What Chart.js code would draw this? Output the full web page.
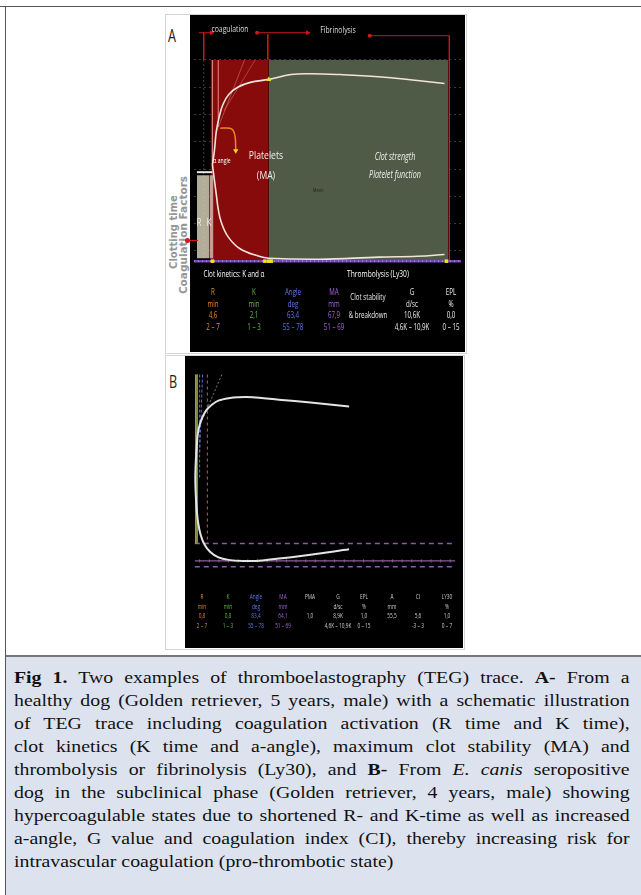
<!DOCTYPE html>
<html><head><meta charset="utf-8">
<script src="https://cdn.jsdelivr.net/npm/chart.js@4.4.1/dist/chart.umd.min.js"></script>
<style>
html,body{margin:0;padding:0;background:#fff;}
body{width:641px;height:895px;overflow:hidden;position:relative;}
.abs{position:absolute;}
.t{position:absolute;white-space:nowrap;font-family:"Open Sans","DejaVu Sans",sans-serif;line-height:1;}
.cl{position:absolute;left:14px;width:540px;font-family:"Liberation Serif","DejaVu Serif",serif;font-size:17.4px;line-height:23px;height:23px;text-align:justify;text-align-last:justify;color:#111;transform-origin:0 0;transform:scaleX(1.14);}
canvas{position:absolute;background:#000;}
</style>
</head><body>
<div class="abs" style="left:0;top:6px;width:641px;height:1px;background:#555"></div>
<div class="abs" style="left:5px;top:6px;width:1px;height:889px;background:#555"></div>
<div class="abs" style="left:165px;top:14px;width:300px;height:338px;border:1px solid #d4d4d4;background:#fff"></div>
<div class="abs" style="left:165px;top:355px;width:298px;height:293px;border:1px solid #d4d4d4;background:#fff"></div>
<canvas id="cA" width="275" height="337" style="left:190px;top:15px;width:275px;height:337px"></canvas>
<canvas id="cB" width="278" height="292" style="left:185px;top:356px;width:278px;height:292px"></canvas>
<div class="abs" style="left:6px;top:655px;width:635px;height:2px;background:#777"></div>
<div class="abs" style="left:6px;top:657px;width:635px;height:238px;background:#dde3ee"></div>
<div id="cap"></div>
<div id="lbl"></div>
<script>
// ---------- DATA (panel A: healthy dog, schematic) ----------
const redZoneX = [3.4, 15.4];
const greenZoneX = [15.4, 52.4];
const zoneTopA = 38.8, zoneBottomA = -35.4;
const rBarX = [0.6, 3.2];
const kBarX = [3.2, 4.0];
const barTopA = -3.9, barBottomA = -34.7;
const upperAx = [3.8, 4.2, 4.6, 5.2, 6.0, 7.2, 9.0, 11.6, 15.4, 20, 24, 30, 38, 46, 51.6];
const upperAy = [0, 5.1, 12.4, 17.8, 22.5, 26.1, 28.7, 30.5, 31.6, 33.4, 33.7, 33.4, 32.6, 31.2, 30.1];
const lowerAx = [3.8, 4.2, 4.6, 5.0, 5.6, 7.0, 9.4, 13.4, 15.4, 26, 38, 46, 51.6];
const lowerAy = [0, -5.7, -11.2, -16.6, -21.3, -26.7, -31.1, -34.0, -34.7, -35.1, -34.3, -34.0, -33.3];
const alphaBracketX = [5.4, 7.4, 8.1, 8.5, 8.6];
const alphaBracketY = [13.5, 13.5, 12.6, 10.0, 5.6];
const baselineA = -35.8;
const markerAx = [3.8, 14.6, 15.4, 15.9, 52.0];
const headerAy = 48.9;
const gridAy = [38.8, 28.7, 18.5, 8.4, -1.8, -11.9, -22.0, -31.9];

// ---------- DATA (panel B: E. canis seropositive dog) ----------
const traceBx = [33.0, 25.0, 18.4, 13.0, 10.0, 8.0, 6.0, 4.6, 3.4, 2.6, 2.0, 1.6, 1.4, 1.2, 1.1,
                 1.2, 1.4, 1.7, 2.2, 3.0, 4.2, 5.8, 8.0, 11.0, 15.0, 23.0, 33.0];
const traceBy = [28.8, 30.4, 31.5, 32.5, 32.5, 32.1, 31.2, 29.6, 27.3, 24.6, 21.5, 17.7, 12.7, 6.9, 0,
                 -6.5, -12.3, -17.7, -22.3, -26.2, -29.2, -31.2, -32.3, -32.7, -32.5, -30.8, -28.1];
const markerTopB = 41.5, markerBottomB = -25.8;
const dashLinesBy = [-25.8, -35.0];
const solidLineBy = -32.7;
const tickBx = [2, 4, 6, 8, 10, 12, 14, 16, 18, 20, 22, 24, 26, 28, 30, 32, 34, 36, 38, 40, 42, 44, 46, 48, 50, 52, 54];

// ---------- TABLES ----------
const tableALabels = ['R', 'K', 'Angle', 'MA', 'G', 'EPL'];
const tableAUnits = ['min', 'min', 'deg', 'mm', 'd/sc', '%'];
const tableAValues = ['4,6', '2,1', '63,4', '67,9', '10,6K', '0,0'];
const tableARanges = ['2 – 7', '1 – 3', '55 – 78', '51 – 69', '4,6K – 10,9K', '0 – 15'];
const tableBLabels = ['R', 'K', 'Angle', 'MA', 'PMA', 'G', 'EPL', 'A', 'CI', 'LY30'];
const tableBUnits = ['min', 'min', 'deg', 'mm', '', 'd/sc', '%', 'mm', '', '%'];
const tableBValues = ['0,8', '0,8', '83,4', '64,1', '1,0', '8,9K', '1,0', '55,5', '5,6', '1,0'];
const tableBRanges = ['2 – 7', '1 – 3', '55 – 78', '51 – 69', '', '4,6K – 10,9K', '0 – 15', '', '-3 – 3', '0 – 7'];

// ---------- helpers ----------
const pts = (xs, ys) => xs.map((x, i) => ({x, y: ys[i]}));
function ln(data, color, width, extra) {
  return Object.assign({type: 'line', data, borderColor: color, borderWidth: width, pointRadius: 0, fill: false, tension: 0, order: 5}, extra || {});
}
function box(xr, top, bottom, color, order) {
  return {type: 'line', data: [{x: xr[0], y: top}, {x: xr[1], y: top}], borderWidth: 0, borderColor: 'transparent',
    backgroundColor: color, pointRadius: 0, fill: {value: bottom}, order: order};
}
function baseOpts(xmin, xmax, ymin, ymax, gridVals) {
  return {
    responsive: false, devicePixelRatio: 1, animation: false, events: [],
    layout: {padding: 0},
    plugins: {legend: {display: false}, tooltip: {enabled: false}},
    scales: {
      x: {type: 'linear', min: xmin, max: xmax, display: false},
      y: {type: 'linear', min: ymin, max: ymax, display: !!gridVals, position: 'left',
        ticks: {display: false, includeBounds: false},
        grid: {color: 'rgba(210,210,210,0.28)', drawTicks: false, lineWidth: 1},
        border: {display: false, dash: [2, 3]},
        afterBuildTicks: s => { if (gridVals) s.ticks = gridVals.map(v => ({value: v})); },
        afterFit: s => { s.width = 0; }}
    }
  };
}

// ---------- Chart A ----------
const red = '#d01818';
const dsA = [
  box(redZoneX, zoneTopA, zoneBottomA, '#870b0b', 20),
  box(greenZoneX, zoneTopA, zoneBottomA, '#4f5b46', 20),
  box(rBarX, barTopA, barBottomA, '#b3ad97', 19),
  box(kBarX, barTopA, barBottomA, '#c89d95', 19),
  ln([{x: 0.6, y: -2.8}, {x: 3.8, y: -2.8}], '#e8e8e8', 2),
  ln([{x: 2.0, y: zoneTopA}, {x: 2.0, y: zoneBottomA}], 'rgba(200,200,200,0.35)', 1, {borderDash: [2, 2]}),
  ln([{x: 3.8, y: zoneTopA}, {x: 3.8, y: 0}], 'rgba(255,190,190,0.35)', 1),
  ln([{x: 5.0, y: zoneTopA}, {x: 5.0, y: 14}], 'rgba(255,190,190,0.3)', 1),
  ln([{x: 4.6, y: 12}, {x: 10.4, y: zoneTopA}], 'rgba(255,190,190,0.35)', 1),
  ln([{x: 6.2, y: 20}, {x: 12.6, y: zoneTopA}], 'rgba(255,190,190,0.3)', 1),
  // header arrows
  ln([{x: 1.0, y: headerAy}, {x: 3.6, y: headerAy}], red, 1, {pointRadius: [0, 3], pointStyle: 'triangle', pointRotation: 90, pointBackgroundColor: red, pointBorderWidth: 0}),
  ln([{x: 13.0, y: headerAy}, {x: 23.4, y: headerAy}], red, 1, {pointRadius: [2, 3], pointStyle: ['circle', 'triangle'], pointRotation: [0, 90], pointBackgroundColor: red, pointBorderWidth: 0}),
  ln([{x: 36.2, y: 47.8}, {x: 52.6, y: 47.8}, {x: 52.6, y: zoneBottomA}], red, 1, {pointRadius: [2, 0, 0], pointBackgroundColor: red, pointBorderWidth: 0}),
  ln([{x: 2.0, y: headerAy}, {x: 2.0, y: zoneTopA}], red, 1),
  ln([{x: 15.2, y: 48.3}, {x: 15.2, y: zoneTopA}], red, 1),
  // baseline
  ln([{x: 0, y: baselineA}, {x: 55, y: baselineA}], '#7446b8', 2.5, {order: 4}),
  ln([{x: 0, y: baselineA}, {x: 55, y: baselineA}], 'rgba(230,230,230,0.7)', 1, {borderDash: [1, 3], order: 3}),
  // trace
  ln(pts(upperAx, upperAy), '#f0e4dc', 1.6, {tension: 0.4, order: 2}),
  ln(pts(lowerAx, lowerAy), '#f0e4dc', 1.6, {tension: 0.4, order: 2}),
  ln(pts(alphaBracketX, alphaBracketY), '#e88a1c', 1.5, {tension: 0.3, order: 2}),
  // markers
  ln(markerAx.map(x => ({x, y: baselineA})), 'transparent', 0, {showLine: false, pointRadius: 2.5, pointStyle: 'rect', pointBackgroundColor: '#f2e21a', pointBorderWidth: 0, order: 1}),
  ln([{x: 15.4, y: 31.6}, {x: 8.6, y: 5.1}], 'transparent', 0, {showLine: false, pointRadius: 3, pointStyle: 'triangle', pointRotation: [0, 180], pointBackgroundColor: '#f2e21a', pointBorderWidth: 0, order: 1})
];
new Chart(document.getElementById('cA'), {type: 'line', data: {datasets: dsA}, options: baseOpts(0, 55, -68, 54, gridAy)});

// ---------- Chart B ----------
const purple = '#8e5ca6';
const dsB = [
  ln([{x: 1.2, y: markerTopB}, {x: 1.2, y: markerBottomB}], '#a7a23c', 1),
  ln([{x: 1.5, y: markerTopB}, {x: 1.5, y: markerBottomB}], '#4da85a', 1),
  ln([{x: 2.0, y: markerTopB}, {x: 2.0, y: 0}], '#5470d0', 1, {borderDash: [3, 2]}),
  ln([{x: 2.6, y: markerTopB}, {x: 2.0, y: 10}], '#5470d0', 1, {borderDash: [3, 2]}),
  ln([{x: 3.6, y: markerTopB}, {x: 3.6, y: markerBottomB}], '#b0606a', 1, {borderDash: [3, 3]}),
  ln([{x: 6.6, y: markerTopB}, {x: 1.6, y: 19.2}], 'rgba(170,170,200,0.7)', 1, {borderDash: [2, 2]}),
  ln([{x: 1.0, y: dashLinesBy[0]}, {x: 55, y: dashLinesBy[0]}], purple, 1.5, {borderDash: [5, 4]}),
  ln([{x: 1.0, y: dashLinesBy[1]}, {x: 55, y: dashLinesBy[1]}], purple, 1.5, {borderDash: [5, 4]}),
  ln([{x: 1.0, y: solidLineBy}, {x: 55, y: solidLineBy}], purple, 1.2),
  ln(tickBx.map(x => ({x, y: solidLineBy})), 'transparent', 0, {showLine: false, pointStyle: 'line', pointRotation: 90, pointRadius: 1.5, pointBorderColor: 'rgba(160,120,180,0.8)', pointBorderWidth: 1}),
  ln(pts(traceBx, traceBy), '#e4e4e4', 2, {tension: 0.3, order: 1})
];
new Chart(document.getElementById('cB'), {type: 'line', data: {datasets: dsB}, options: baseOpts(0, 55.6, -65.4, 46.9, null)});

// ---------- labels ----------
const L = document.getElementById('lbl');
function txt(s, x, y, size, color, sx, extra) {
  const d = document.createElement('div');
  d.className = 't';
  d.textContent = s;
  d.style.left = x + 'px'; d.style.top = y + 'px';
  d.style.fontSize = size + 'px'; d.style.color = color;
  d.style.transform = 'translate(-50%,-50%) scaleX(' + (sx || 0.72) + ')';
  if (extra) Object.assign(d.style, extra);
  L.appendChild(d);
  return d;
}
txt('A', 172, 35, 18, '#222', 0.7);
txt('B', 173, 381, 18, '#222', 0.7);
txt('coagulation', 230, 29, 9.5, '#ddd', 0.72);
txt('Fibrinolysis', 338, 30, 9.5, '#ddd', 0.72);
txt('α angle', 222, 161, 7.5, '#fff', 0.68);
txt('Platelets', 266, 155, 11.5, '#eee', 0.75);
txt('(MA)', 266, 175, 11.5, '#eee', 0.75);
txt('Clot strength', 395, 156, 10, '#eee', 0.72, {fontStyle: 'italic'});
txt('Platelet function', 395, 174, 10, '#eee', 0.72, {fontStyle: 'italic'});
txt('Metin', 318, 190, 5, '#222', 0.8);
txt('R', 199, 222, 10, '#eee', 0.8);
txt('K', 209, 222, 10, '#eee', 0.8);
txt('Clot kinetics: K and α', 234, 273, 9, '#fff', 0.7);
txt('Thrombolysis (Ly30)', 378, 274, 9.5, '#fff', 0.7);
const rot = {transform: 'translate(-50%,-50%) rotate(-90deg)', fontFamily: '"DejaVu Sans",sans-serif', fontWeight: 'bold'};
txt('Clotting time', 174, 232, 10, '#959595', 1, rot);
txt('Coagulation Factors', 183, 235, 10.5, '#959595', 1, rot);
const dot = document.createElement('div');
Object.assign(dot.style, {position: 'absolute', left: '185px', top: '238px', width: '5px', height: '5px', borderRadius: '50%', background: '#d01818'});
L.appendChild(dot);
const redTick = document.createElement('div');
Object.assign(redTick.style, {position: 'absolute', left: '190px', top: '240px', width: '8px', height: '1px', background: '#d01818'});
L.appendChild(redTick);

// table A
const colA = [213, 254, 293, 334, 412, 451];
const colorsA = ['#e58a2a', '#63bd45', '#5f7ae8', '#a862d8', '#eee', '#eee'];
const rowsA = [292, 304, 315, 327];
[tableALabels, tableAUnits, tableAValues, tableARanges].forEach((row, r) => {
  row.forEach((s, i) => { if (s) txt(s, colA[i], rowsA[r], 9.5, colorsA[i], 0.65); });
});
txt('Clot stability', 368, 297, 9.5, '#eee', 0.65);
txt('& breakdown', 368, 315, 9.5, '#eee', 0.65);

// table B
const colB = [202, 228, 256, 283, 310, 338, 364, 392, 418, 447];
const colorsB = ['#e58a2a', '#63bd45', '#5f7ae8', '#a862d8', '#ccc', '#ccc', '#ccc', '#ccc', '#ccc', '#ccc'];
const rowsB = [597, 607, 616, 626];
[tableBLabels, tableBUnits, tableBValues, tableBRanges].forEach((row, r) => {
  row.forEach((s, i) => { if (s) txt(s, colB[i], rowsB[r], 6.8, colorsB[i], 0.7); });
});

// caption
const capLines = [
  '<b>Fig 1.</b> Two examples of thromboelastography (TEG) trace. <b>A-</b> From a',
  'healthy dog (Golden retriever, 5 years, male) with a schematic illustration',
  'of TEG trace including coagulation activation (R time and K time),',
  'clot kinetics (K time and a-angle), maximum clot stability (MA) and',
  'thrombolysis or fibrinolysis (Ly30), and <b>B-</b> From <i>E. canis</i> seropositive',
  'dog in the subclinical phase (Golden retriever, 4 years, male) showing',
  'hypercoagulable states due to shortened R- and K-time as well as increased',
  'a-angle, G value and coagulation index (CI), thereby increasing risk for',
  'intravascular coagulation (pro-thrombotic state)'
];
const cap = document.getElementById('cap');
capLines.forEach((h, i) => {
  const d = document.createElement('div');
  d.className = 'cl';
  d.innerHTML = h;
  d.style.top = (666 + i * 23) + 'px';
  if (i === capLines.length - 1) d.style.textAlignLast = 'left';
  cap.appendChild(d);
});
</script>
</body></html>
